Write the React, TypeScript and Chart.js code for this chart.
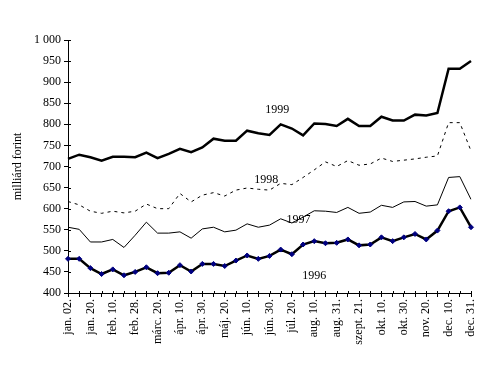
import React, { useEffect, useRef } from "react";
import { Chart, registerables } from "chart.js";

Chart.register(...registerables);

const categories = [
  "jan. 02.", "jan. 10.", "jan. 20.", "jan. 31.", "feb. 10.", "feb. 20.", "feb. 28.",
  "márc. 10.", "márc. 20.", "márc. 31.", "ápr. 10.", "ápr. 20.", "ápr. 30.",
  "máj. 10.", "máj. 20.", "máj. 31.", "jún. 10.", "jún. 20.", "jún. 30.",
  "júl. 10.", "júl. 20.", "júl. 31.", "aug. 10.", "aug. 20.", "aug. 31.",
  "szept. 10.", "szept. 21.", "szept. 30.", "okt. 10.", "okt. 20.", "okt. 30.",
  "nov. 10.", "nov. 20.", "nov. 30.", "dec. 10.", "dec. 20.", "dec. 31.",
];

const s1996 = [481, 481, 459, 445, 456, 442, 450, 461, 447, 448, 466, 451, 469, 469, 464, 477, 489, 481, 488, 503, 492, 515, 523, 518, 519, 527, 513, 515, 532, 523, 532, 540, 527, 548, 594, 603, 556];
const s1997 = [556, 551, 521, 521, 527, 508, 537, 568, 542, 542, 545, 530, 552, 556, 545, 549, 564, 556, 561, 576, 566, 580, 595, 594, 591, 603, 589, 592, 608, 603, 616, 617, 606, 609, 674, 676, 622];
const s1998 = [617, 609, 594, 589, 594, 590, 594, 611, 600, 600, 636, 616, 632, 638, 630, 644, 649, 646, 644, 660, 657, 674, 692, 711, 700, 714, 703, 706, 720, 712, 715, 718, 722, 725, 804, 804, 737];
const s1999 = [718, 728, 722, 714, 723, 723, 722, 733, 720, 730, 742, 734, 745, 766, 761, 761, 785, 779, 775, 800, 790, 774, 802, 801, 796, 813, 796, 796, 818, 809, 809, 823, 821, 827, 932, 932, 950];

const seriesNames = ["1996", "1997", "1998", "1999"];
const yMin = 400;
const yMax = 1000;
const yStep = 50;
const yTitle = "milliárd forint";

// in-chart series labels: [category index, value]
const labelAnchors: [number, number][] = [
  [22, 441],
  [20.6, 573],
  [17.7, 668],
  [18.7, 834],
];

const FONT = "'Liberation Serif', 'Times New Roman', serif";

const fmt = (v: number) => {
  const s = String(Math.round(v));
  return s.replace(/\B(?=(\d{3})+(?!\d))/g, " ");
};

const innerTicks = {
  id: "innerTicks",
  afterDraw(chart: any) {
    const ctx = chart.ctx;
    const { left, bottom } = chart.chartArea;
    ctx.save();
    ctx.strokeStyle = "#000";
    ctx.lineWidth = 1;
    const y = chart.scales.y;
    y.ticks.forEach((_t: any, i: number) => {
      const py = Math.round(y.getPixelForTick(i)) + 0.5;
      ctx.beginPath();
      ctx.moveTo(left, py);
      ctx.lineTo(left + 3, py);
      ctx.stroke();
    });
    const x = chart.scales.x;
    x.ticks.forEach((_t: any, i: number) => {
      const px = Math.round(x.getPixelForTick(i)) + 0.5;
      ctx.beginPath();
      ctx.moveTo(px, bottom);
      ctx.lineTo(px, bottom - 2);
      ctx.stroke();
    });
    ctx.restore();
  },
};

const seriesLabels = {
  id: "seriesLabels",
  afterDatasetsDraw(chart: any) {
    const ctx = chart.ctx;
    const x = chart.scales.x;
    const y = chart.scales.y;
    ctx.save();
    ctx.fillStyle = "#000";
    ctx.font = `12px ${FONT}`;
    ctx.textAlign = "center";
    ctx.textBaseline = "middle";
    seriesNames.forEach((name, i) => {
      const [ix, v] = labelAnchors[i];
      ctx.fillText(name, x.getPixelForValue(ix), y.getPixelForValue(v));
    });
    ctx.restore();
  },
};

export default function App() {
  const ref = useRef<HTMLCanvasElement>(null);

  useEffect(() => {
    if (!ref.current) return;
    const chart = new Chart(ref.current, {
      type: "line",
      data: {
        labels: categories,
        datasets: [
          {
            label: seriesNames[0],
            data: s1996,
            borderColor: "#000",
            borderWidth: 2.5,
            pointStyle: "rectRot",
            pointRadius: 2.5,
            pointBackgroundColor: "#000080",
            pointBorderColor: "#000080",
            pointBorderWidth: 1,
            tension: 0,
          },
          {
            label: seriesNames[1],
            data: s1997,
            borderColor: "#000",
            borderWidth: 1,
            pointRadius: 0,
            tension: 0,
          },
          {
            label: seriesNames[2],
            data: s1998,
            borderColor: "#000",
            borderWidth: 1,
            borderDash: [3, 4],
            pointRadius: 0,
            tension: 0,
          },
          {
            label: seriesNames[3],
            data: s1999,
            borderColor: "#000",
            borderWidth: 2.5,
            pointRadius: 0,
            tension: 0,
          },
        ],
      },
      options: {
        responsive: false,
        animation: false,
        layout: { padding: { left: 11, top: 40, right: 32, bottom: 0 } },
        plugins: {
          legend: { display: false },
          tooltip: { enabled: false },
          title: { display: false },
        },
        scales: {
          x: {
            offset: false,
            border: { color: "#000", width: 1 },
            grid: { display: true, drawOnChartArea: false, tickLength: 4, color: "#000" },
            ticks: {
              autoSkip: false,
              maxRotation: 90,
              minRotation: 90,
              padding: 2,
              color: "#000",
              font: { family: FONT, size: 12 },
              callback: (_v: any, i: number) => (i % 2 === 0 ? categories[i] : ""),
            },
            afterFit: (s: any) => {
              s.height = 74;
            },
          },
          y: {
            min: yMin,
            max: yMax,
            border: { color: "#000", width: 1 },
            grid: { display: true, drawOnChartArea: false, tickLength: 4, color: "#000" },
            ticks: {
              stepSize: yStep,
              padding: 3,
              color: "#000",
              font: { family: FONT, size: 12 },
              callback: (v: any) => fmt(Number(v)),
            },
            title: {
              display: true,
              text: yTitle,
              color: "#000",
              font: { family: FONT, size: 12 },
              padding: 0,
            },
            afterFit: (s: any) => {
              s.width = 57;
            },
          },
        },
      },
      plugins: [innerTicks, seriesLabels],
    });
    return () => chart.destroy();
  }, []);

  return (
    <div style={{ position: "absolute", left: 0, top: 0, width: 503, height: 367, background: "#fff" }}>
      <canvas ref={ref} width={503} height={367} style={{ display: "block" }} />
    </div>
  );
}
